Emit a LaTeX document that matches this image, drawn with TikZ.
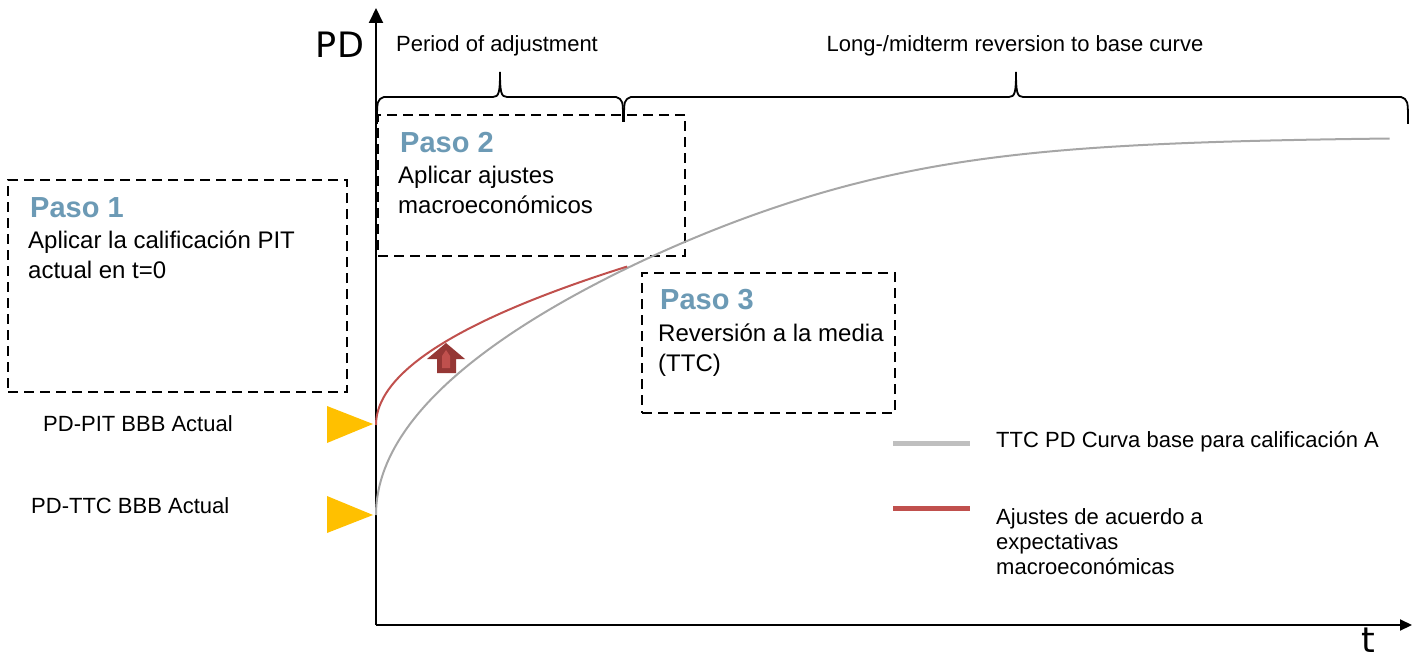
\documentclass[tikz,border=0pt]{standalone}
\usepackage{fontspec}
\setmainfont{Liberation Sans}
\newfontfamily\axisfont{DejaVu Sans}
\usetikzlibrary{arrows.meta}

\definecolor{pasoblue}{RGB}{108,154,181}
\definecolor{adjred}{RGB}{192,80,77}
\definecolor{arrowdark}{RGB}{149,55,53}
\definecolor{basegray}{RGB}{166,166,166}
\definecolor{legendgray}{RGB}{191,191,191}
\definecolor{marker}{RGB}{255,192,0}

\begin{document}
\begin{tikzpicture}[x=1pt,y=-1pt,
  stepframe/.style={draw=black, dash pattern=on 10pt off 6pt, line width=2.8pt,
    inner sep=0pt, outer sep=0pt, anchor=north west},
  pasotitle/.style={anchor=base west, inner sep=0pt, text=pasoblue,
    font=\fontsize{29}{32}\selectfont\bfseries},
  pasobody/.style={anchor=base west, inner sep=0pt,
    font=\fontsize{24}{28}\selectfont},
  smalltext/.style={inner sep=0pt, font=\fontsize{22}{26}\selectfont},
  axispen/.style={draw=black, line width=2pt},
  bracepen/.style={draw=black, line width=1.8pt},
  basecurve/.style={draw=basegray, line width=2pt},
  adjcurve/.style={draw=adjred, line width=2pt},
  markertri/.style={fill=marker, draw=none},
  legendline/.style={line width=5pt}
]
\useasboundingbox (0,0) rectangle (1412,655);

% axes
\coordinate (O) at (376,625);
\coordinate (ytop) at (376,8);
\coordinate (xend) at (1412,625);
\draw[axispen, -{Triangle[length=15pt,width=14pt]}] (O) -- (ytop);
\draw[axispen, -{Triangle[length=12pt,width=11pt]}] (O) -- (xend);
\node[font=\axisfont\fontsize{35}{40}\selectfont, inner sep=0pt] (pdlabel) at (340,45) {PD};
\node[font=\axisfont\fontsize{35}{40}\selectfont, inner sep=0pt, anchor=base] (tlabel) at (1368,652) {t};

% braces over the two periods
\draw[bracepen] (377,124) .. controls (377,100) .. (384,97) -- (493,97)
  .. controls (499,97) and (500,92) .. (500,72)
  .. controls (500,92) and (501,97) .. (507,97) -- (616,97)
  .. controls (623,100) .. (623,122);
\draw[bracepen] (624,122) .. controls (624,100) .. (631,97) -- (1009,97)
  .. controls (1015,97) and (1016,92) .. (1016,72)
  .. controls (1016,92) and (1017,97) .. (1023,97) -- (1401,97)
  .. controls (1408,100) .. (1408,124);
\node[smalltext, anchor=base] (period) at (497,52) {Period of adjustment};
\node[smalltext, anchor=base] (longterm) at (1015,52) {Long-/midterm reversion to base curve};

% step boxes
\node[stepframe, minimum width=339pt, minimum height=212pt] (box1) at (8,180) {};
\node[pasotitle] (p1t) at (30,217) {Paso 1};
\node[pasobody] (p1a) at (28,248) {Aplicar la calificación PIT};
\node[pasobody] (p1b) at (28,278) {actual en t=0};

\node[stepframe, minimum width=307pt, minimum height=141pt] (box2) at (378,115) {};
\node[pasotitle] (p2t) at (400,153) {Paso 2};
\node[pasobody] (p2a) at (398,183) {Aplicar ajustes};
\node[pasobody] (p2b) at (398,213) {macroeconómicos};

\node[stepframe, minimum width=253pt, minimum height=140pt] (box3) at (642,273) {};
\node[pasotitle] (p3t) at (660,309) {Paso 3};
\node[pasobody] (p3a) at (658,341) {Reversión a la media};
\node[pasobody] (p3b) at (658,371) {(TTC)};

% PD curves
\draw[basecurve] plot[domain=0:31.84, samples=200, variable=\s]
  ({376+\s*\s},{515-15.6*\s/pow(1+pow(\s*\s/590,5),0.1)});
\draw[adjcurve] plot[domain=0:15.85, samples=120, variable=\s]
  ({376+\s*\s},{425-10*\s});

% upward block arrow
\fill[arrowdark] (427,359) -- (446,343) -- (465,359) -- (456,359) -- (456,373)
  -- (437,373) -- (437,359) -- cycle;
\fill[adjred] (442,368) -- (442,356) -- (446,350) -- (450,356) -- (450,368) -- cycle;

% starting-point markers
\fill[markertri] (327,406) -- (373,424) -- (327,443) -- cycle;
\fill[markertri] (327,496) -- (373,515) -- (327,533) -- cycle;
\node[smalltext, anchor=base west] (pit) at (43,431) {PD-PIT BBB Actual};
\node[smalltext, anchor=base west] (ttc) at (31,513) {PD-TTC BBB Actual};

% legend
\coordinate (lg1a) at (893,443);
\coordinate (lg1b) at (970,443);
\coordinate (lg2a) at (893,508);
\coordinate (lg2b) at (970,508);
\draw[legendline, legendgray] (lg1a) -- (lg1b);
\draw[legendline, adjred] (lg2a) -- (lg2b);
\node[smalltext, anchor=base west] (leg1) at (996,447) {TTC PD Curva base para calificación A};
\node[smalltext, anchor=base west] (leg2a) at (996,524) {Ajustes de acuerdo a};
\node[smalltext, anchor=base west] (leg2b) at (996,549) {expectativas};
\node[smalltext, anchor=base west] (leg2c) at (996,574) {macroeconómicas};
\end{tikzpicture}
\end{document}
